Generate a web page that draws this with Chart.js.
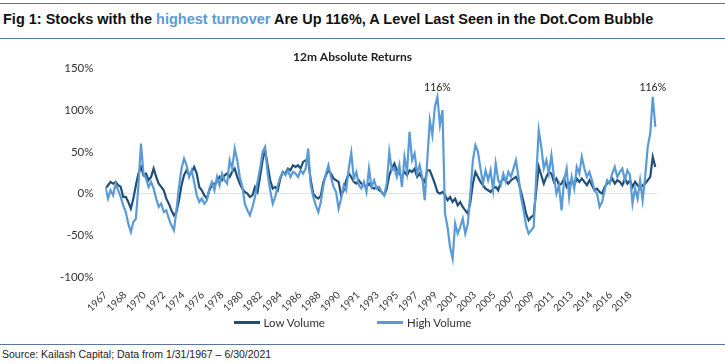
<!DOCTYPE html>
<html>
<head>
<meta charset="utf-8">
<script src="https://cdn.jsdelivr.net/npm/chart.js@4"></script>
<style>
  body { margin: 0; background: #fff; }
  #page { position: relative; width: 725px; height: 364px; overflow: hidden; font-family: "Liberation Sans", Arial, sans-serif; }
  .regla { position: absolute; left: 0; width: 725px; height: 0; border-top: 1.5px solid #5b7799; }
  #titulo { position: absolute; left: 3px; top: 11px; font-size: 14.5px; font-weight: bold; color: #111; white-space: nowrap; }
  #titulo span { color: #5b9bd5; }
  #fuente { position: absolute; left: 2px; top: 348px; font-size: 10.5px; color: #222; white-space: nowrap; }
  #caja { position: absolute; left: 0; top: 44px; width: 725px; height: 274px; }
  #leyenda { position: absolute; left: 0; top: 316px; width: 725px; display: flex; justify-content: center; gap: 52px; padding-right: 20px; box-sizing: border-box;
             font-family: Lato, "Open Sans", sans-serif; font-size: 11.5px; color: #333; }
  #leyenda .item { display: flex; align-items: center; }
  #leyenda .linea { width: 26px; height: 3px; margin-right: 4px; }
</style>
</head>
<body>
<div id="page">
  <div class="regla" style="top:3px"></div>
  <div id="titulo">Fig 1: Stocks with the <span>highest turnover</span> Are Up 116%, A Level Last Seen in the Dot.Com Bubble</div>
  <div class="regla" style="top:38px"></div>
  <div id="caja"><canvas id="grafico"></canvas></div>
  <div id="leyenda"></div>
  <div class="regla" style="top:344px"></div>
  <div id="fuente">Source: Kailash Capital; Data from 1/31/1967 – 6/30/2021</div>
</div>
<script>
// Datos: rentabilidad a 12 meses, un valor por trimestre desde ene-1967
const anioInicio = 1967;
const pasoMeses = 3;
const ultimoMes = 653;
const saltoEtiquetas = 23;
const etiquetasY = ['-100%', '-50%', '0%', '50%', '100%', '150%'];
const nombresSeries = ['Low Volume', 'High Volume'];

const lowVolume = [
  6, 10, 14, 12,    14, 10, 8, -4,     -4, -10, -18, -6,   10, 24, 32, 22,
  24, 16, 20, 30,   20, 12, 8, 4,      -6, -12, -20, -26,  -22, -8, 10, 22,
  28, 22, 26, 32,   24, 8, 4, -2,      -6, 4, 10, 12,      14, 20, 16, 22,
  24, 20, 26, 30,   20, 12, 6, 2,      0, -4, -2, 8,       2, 20, 40, 52,
  34, 16, 6, 8,     4, 18, 26, 24,     30, 28, 34, 32,     34, 30, 38, 40,
  40, 16, 0, -4,    -6, -2, 14, 22,    28, 24, 18, 16,     14, -2, 4, 16,
  24, 20, 14, 12,   16, 12, 10, 8,     12, 8, 6, 8,        4, 2, -2, 6,
  22, 30, 36, 28,   24, 20, 26, 22,    28, 26, 30, 20,     24, 18, 14, 28,
  28, 20, 12, 2,    0, 2, -2, -8,      -4, -10, -6, -14,   -10, -16, -20, -24,
  -10, 12, 26, 20,  14, 10, 6, 4,      2, 6, 8, 4,         14, 18, 16, 12,
  16, 18, 20, 14,   2, -10, -24, -32,  -28, -26, 4, 32,    22, 12, 20, 26,
  24, 14, 18, 10,   12, 18, 8, 12,     16, 10, 18, 14,     18, 14, 10, 16,
  10, 4, 6, 2,      0, 8, 12, 14,      18, 12, 16, 14,     10, 18, 12, 16,
  8, 14, 10, 6,     10, 12, 16, 20,    44, 32
];

const highVolume = [
  8, -6, 4, -2,     12, 4, -4, -14,    -22, -36, -46, -34, -30, 10, 60, 24,
  18, 8, 14, 6,     -6, -16, -12, -22, -20, -30, -38, -44, -20, 8, 30, 42,
  34, 20, 28, 14,   -2, -10, -6, -12,  -8, 6, 14, 4,       20, 10, 24, 16,
  12, 40, 30, 54,   40, 20, 8, -12,    -20, -26, -16, -4,  14, 30, 50, 56,
  24, 4, -12, -4,   10, 20, 26, 22,    28, 20, 26, 24,     20, 28, 24, 30,
  54, 10, -4, -14,  -22, -10, 10, 24,  34, 20, 8, 2,       -18, -6, 10, 4,
  30, 49, 18, 26,   10, 6, 14, 2,      30, 8, 16, 6,       8, 2, -2, 12,
  50, 28, 30, 20,   34, 8, 44, 26,     74, 40, 48, 24,     34, 20, -8, 40,
  88, 70, 104, 116, 82, 100, -24, -40, -64, -78, -36, -48, -40, -30, -48, -36,
  0, 40, 58, 50,    30, 12, 28, 16,    28, 4, 36, 16,      10, 24, 14, 26,
  20, 30, 40, 20,   -4, -20, -38, -48, -44, -40, 20, 76,   56, 30, 40, 24,
  46, 20, 0, 10,    -20, 16, 30, -4,   20, 6, 32, 24,      44, 30, 20, 26,
  16, 4, 0, -16,    -10, 4, 16, 12,    24, 32, 20, 26,     30, 16, 28, 22,
  -12, 6, -6, 16,   -8, 20, 56, 72,    116, 80
];

const colores = ['#1f4e79', '#5b9bd5'];
const fuenteCalibri = 'Lato, "Open Sans", sans-serif';

// Pasar a puntos {x: mes, y: valor}
function aPuntos(serie) {
  return serie.map((v, i) => ({ x: i * pasoMeses, y: v }));
}

// Etiqueta "116%" sobre los picos de High Volume
const etiquetaPicos = {
  id: 'etiquetaPicos',
  afterDatasetsDraw(chart) {
    const meta = chart.getDatasetMeta(1);
    const ctx = chart.ctx;
    const maximo = Math.max(...highVolume);
    ctx.save();
    ctx.font = '10.5px ' + fuenteCalibri;
    ctx.fillStyle = '#222';
    ctx.textAlign = 'center';
    ctx.textBaseline = 'bottom';
    highVolume.forEach((v, i) => {
      if (v === maximo) {
        const p = meta.data[i];
        ctx.fillText(v + '%', p.x, p.y - 4);
      }
    });
    ctx.restore();
  }
};

const grafico = new Chart(document.getElementById('grafico'), {
  type: 'line',
  data: {
    datasets: [
      {
        label: nombresSeries[0],
        data: aPuntos(lowVolume),
        borderColor: colores[0],
        backgroundColor: colores[0],
        borderWidth: 2.2,
        pointRadius: 0,
        tension: 0,
        order: 2
      },
      {
        label: nombresSeries[1],
        data: aPuntos(highVolume),
        borderColor: colores[1],
        backgroundColor: colores[1],
        borderWidth: 2.2,
        pointRadius: 0,
        tension: 0,
        order: 1
      }
    ]
  },
  options: {
    responsive: true,
    maintainAspectRatio: false,
    animation: false,
    layout: { padding: { left: 48, right: 68, top: 0, bottom: 0 } },
    plugins: {
      title: {
        display: true,
        text: '12m Absolute Returns',
        color: '#222',
        font: { family: fuenteCalibri, size: 12, weight: 'bold' },
        padding: { top: 6, bottom: 4 }
      },
      legend: { display: false },
      tooltip: { enabled: false }
    },
    scales: {
      x: {
        type: 'linear',
        min: 0,
        max: ultimoMes,
        grid: { display: false },
        border: { display: false },
        afterBuildTicks(eje) {
          const ticks = [];
          for (let m = 0; m <= 630; m += saltoEtiquetas) ticks.push({ value: m });
          eje.ticks = ticks;
        },
        ticks: {
          autoSkip: false,
          minRotation: 45,
          maxRotation: 45,
          padding: 4,
          color: '#333',
          font: { family: fuenteCalibri, size: 10 },
          callback: (v) => String(anioInicio + Math.floor(v / 12))
        }
      },
      y: {
        min: -100,
        max: 150,
        grid: {
          color: (c) => (c.tick.value === 0 ? '#dde3ea' : 'rgba(0,0,0,0)'),
          drawTicks: false
        },
        border: { display: false },
        ticks: {
          stepSize: 50,
          padding: 12,
          color: '#333',
          font: { family: fuenteCalibri, size: 11.5 },
          callback: (v) => etiquetasY[(v + 100) / 50]
        }
      }
    }
  },
  plugins: [etiquetaPicos]
});

// Leyenda en HTML con los mismos colores y nombres de las series
const leyenda = document.getElementById('leyenda');
grafico.data.datasets.forEach((ds) => {
  const item = document.createElement('div');
  item.className = 'item';
  item.innerHTML = `<span class="linea" style="background:${ds.borderColor}"></span><span>${ds.label}</span>`;
  leyenda.appendChild(item);
});
</script>
</body>
</html>
